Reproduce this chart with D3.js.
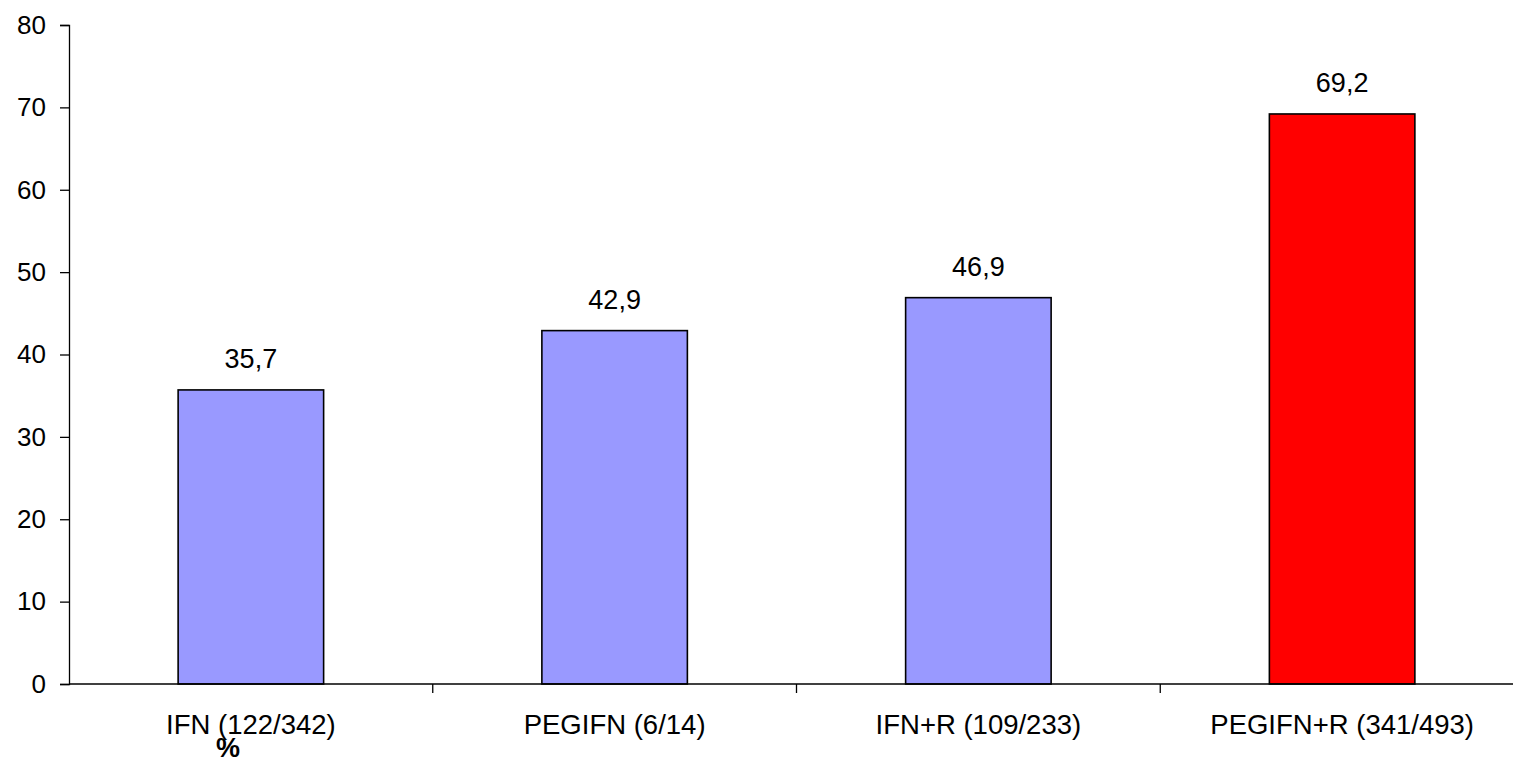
<!DOCTYPE html>
<html>
<head>
<meta charset="utf-8">
<script src="https://cdn.jsdelivr.net/npm/d3@7"></script>
<style>
  html, body { margin: 0; padding: 0; background: #fff; }
  svg { display: block; }
  text { font-family: "Liberation Sans", Arial, sans-serif; fill: #000; }
</style>
</head>
<body>
<script>
const categories = ["IFN (122/342)", "PEGIFN (6/14)", "IFN+R (109/233)", "PEGIFN+R (341/493)"];
const values = [35.7, 42.9, 46.9, 69.2];
const valueLabels = ["35,7", "42,9", "46,9", "69,2"];
const barColors = ["#9999FF", "#9999FF", "#9999FF", "#FF0000"];
const yTicks = [0, 10, 20, 30, 40, 50, 60, 70, 80];
const yTitle = "%";

const W = 1513, H = 762;
const svg = d3.select("body").append("svg").attr("width", W).attr("height", H);

const x = d3.scaleBand().domain(categories).range([69, 1524]).paddingInner(0.6).paddingOuter(0.3);
const y = d3.scaleLinear().domain([0, 80]).range([684, 25]);

// y axis
const yAxis = svg.append("g").attr("transform", "translate(69,0)")
  .call(d3.axisLeft(y).tickValues(yTicks).tickSize(9).tickPadding(14).tickSizeOuter(9));
yAxis.select(".domain").attr("stroke", "#000").attr("stroke-width", 1.3);
yAxis.selectAll(".tick line").attr("stroke", "#000").attr("stroke-width", 1.3);
yAxis.selectAll(".tick text").style("font-size", "26px").style("font-family", "'Liberation Sans', Arial, sans-serif").attr("fill", "#000");

// bars
svg.append("g").selectAll("rect").data(categories).join("rect")
  .attr("x", d => x(d))
  .attr("y", (d, i) => y(values[i]))
  .attr("width", x.bandwidth())
  .attr("height", (d, i) => y(0) - y(values[i]))
  .attr("fill", (d, i) => barColors[i])
  .attr("stroke", "#000")
  .attr("stroke-width", 1.6);

// value labels
svg.append("g").selectAll("text").data(categories).join("text")
  .attr("x", d => x(d) + x.bandwidth() / 2)
  .attr("y", (d, i) => y(values[i]) - 22)
  .attr("text-anchor", "middle")
  .style("font-size", "27px")
  .text((d, i) => valueLabels[i]);

// x axis
const step = x.step();
const xg = svg.append("g");
xg.append("line").attr("x1", 69).attr("x2", W).attr("y1", y(0)).attr("y2", y(0))
  .attr("stroke", "#000").attr("stroke-width", 1.6);
xg.selectAll("line.tk").data(d3.range(1, categories.length)).join("line")
  .attr("class", "tk")
  .attr("x1", i => 69 + i * step).attr("x2", i => 69 + i * step)
  .attr("y1", y(0)).attr("y2", y(0) + 9)
  .attr("stroke", "#000").attr("stroke-width", 1.3);
xg.selectAll("text").data(categories).join("text")
  .attr("x", d => x(d) + x.bandwidth() / 2)
  .attr("y", 734)
  .attr("text-anchor", "middle")
  .style("font-size", "27.5px")
  .text(d => d);

// stray y title
svg.append("text").attr("x", 228).attr("y", 757).attr("text-anchor", "middle")
  .style("font-size", "27px").style("font-weight", "bold").text(yTitle);
</script>
</body>
</html>
